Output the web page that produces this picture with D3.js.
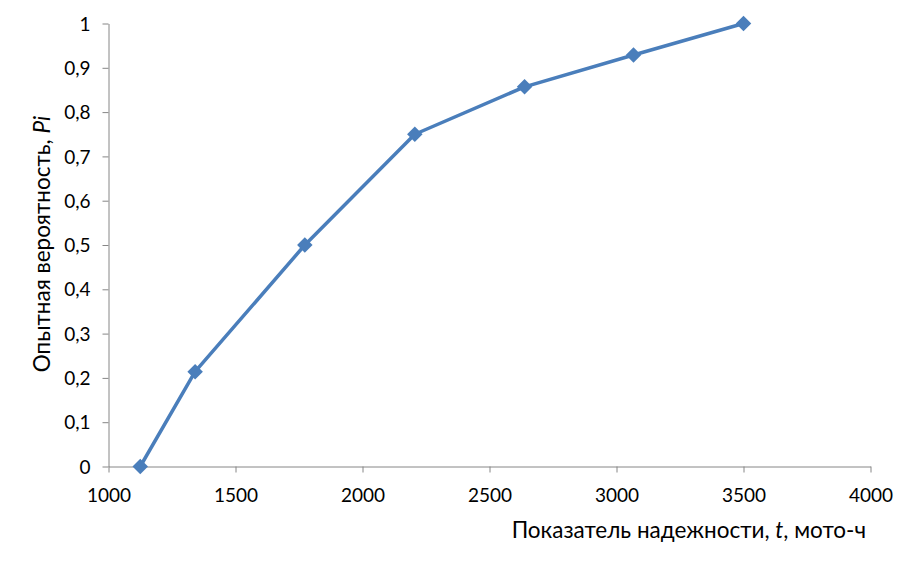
<!DOCTYPE html>
<html><head><meta charset="utf-8">
<script src="https://cdn.jsdelivr.net/npm/d3@7"></script>
<style>body{margin:0;background:#fff}svg{display:block}text{font-family:Lato,"Open Sans",sans-serif;fill:#000}</style>
</head><body>
<svg id="c" width="915" height="569"></svg>
<script>
const tValues = [1125, 1341, 1773, 2206, 2638, 3067, 3500];
const pValues = [0, 0.214, 0.5, 0.75, 0.857, 0.929, 1];
const xTicks = [1000, 1500, 2000, 2500, 3000, 3500, 4000];
const yTicks = [0, 0.1, 0.2, 0.3, 0.4, 0.5, 0.6, 0.7, 0.8, 0.9, 1];

const svg = d3.select("#c");
const x = d3.scaleLinear().domain([1000, 4000]).range([108.5, 870.5]);
const y = d3.scaleLinear().domain([0, 1]).range([466.5, 23.5]);
const axisColor = "#868686";

const fmt = d => d === 0 ? "0" : d === 1 ? "1" : String(d).replace(".", ",");

const gx = svg.append("g").attr("transform", "translate(0,466.5)")
  .call(d3.axisBottom(x).tickValues(xTicks).tickSize(6).tickSizeOuter(0).tickFormat(d => d));
gx.attr("font-size", 19).attr("font-family", "Lato");
gx.select(".domain").attr("stroke", axisColor);
gx.selectAll(".tick line").attr("stroke", axisColor);
gx.selectAll(".tick text").attr("y", 22).attr("dy", "0.71em").attr("fill", "#000");

const gy = svg.append("g").attr("transform", "translate(108.5,0)")
  .call(d3.axisLeft(y).tickValues(yTicks).tickSize(6).tickSizeOuter(0).tickFormat(fmt));
gy.attr("font-size", 19).attr("font-family", "Lato");
gy.select(".domain").attr("stroke", axisColor);
gy.selectAll(".tick line").attr("stroke", axisColor);
gy.selectAll(".tick text").attr("x", -18).attr("dy", "0.35em").attr("fill", "#000");

const color = "#4A7EBB";
const line = d3.line().x((d, i) => x(tValues[i])).y(d => y(d));
svg.append("path").datum(pValues).attr("d", line)
  .attr("fill", "none").attr("stroke", color).attr("stroke-width", 3.5).attr("stroke-linejoin", "round");

svg.selectAll(".m").data(pValues).join("path")
  .attr("transform", (d, i) => `translate(${x(tValues[i])},${y(d)}) rotate(45)`)
  .attr("d", d3.symbol().type(d3.symbolSquare).size(120)).attr("fill", color);

svg.append("text").attr("x", 866).attr("y", 538).attr("text-anchor", "end").attr("font-size", 22.5)
  .html('Показатель надежности, <tspan font-style="italic">t</tspan>, мото-ч');

svg.append("text").attr("transform", "translate(50,244) rotate(-90)").attr("text-anchor", "middle").attr("font-size", 22.5)
  .html('Опытная вероятность, <tspan font-style="italic">Pi</tspan>');
</script>
</body></html>
